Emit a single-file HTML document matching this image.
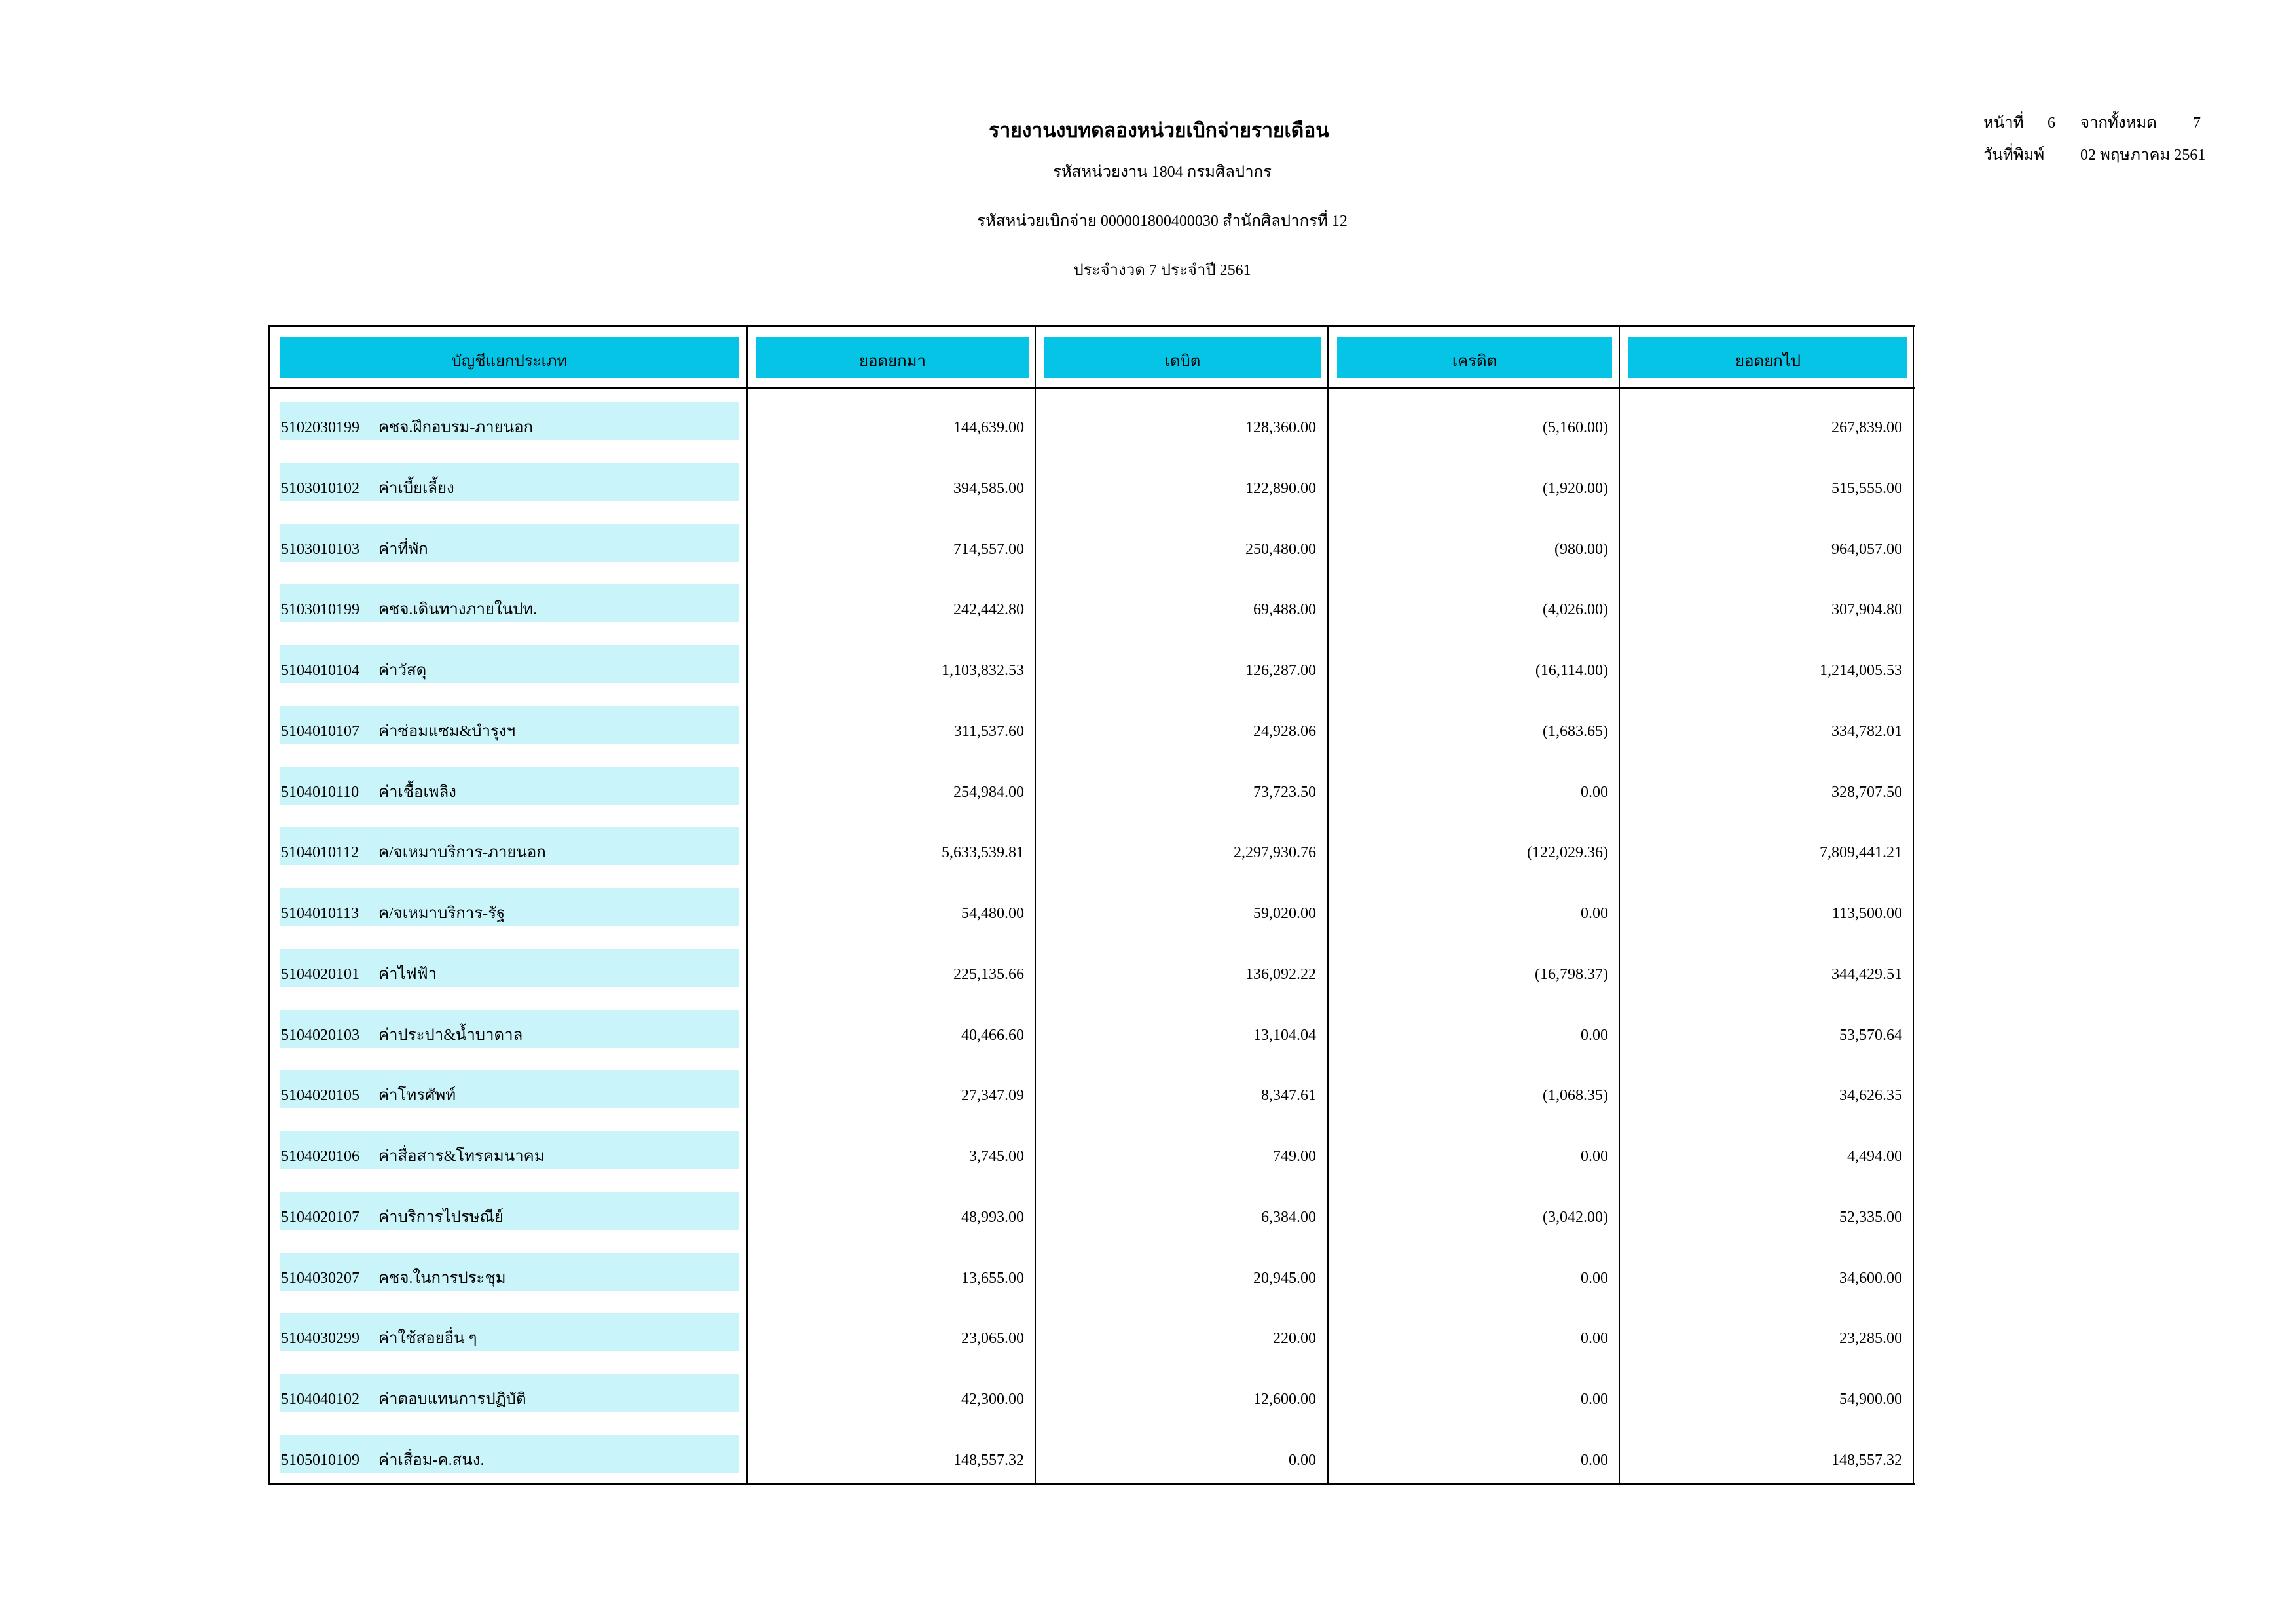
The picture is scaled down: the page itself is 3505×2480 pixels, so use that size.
<!DOCTYPE html>
<html><head><meta charset="utf-8"><style>
body{margin:0;background:#fff;}
#p{position:relative;width:3505px;height:2480px;overflow:hidden;font-family:"Liberation Serif","DejaVu Serif",serif;color:#000;}
.t{position:absolute;white-space:nowrap;font-size:24px;line-height:1;}
.c{position:absolute;transform:translateX(-50%);}
.r{position:absolute;transform:translateX(-100%);}
.b{position:absolute;background:#000;}
.hc{position:absolute;background:#05c4e6;top:515px;height:62px;}
.rc{position:absolute;background:#c9f4fa;left:428px;width:700px;height:58px;}
</style></head><body><div id="p">
<div class="t c" style="left:1770px;top:185px;font-size:30px;font-weight:bold">รายงานงบทดลองหน่วยเบิกจ่ายรายเดือน</div>
<div class="t c" style="left:1775px;top:251px">รหัสหน่วยงาน 1804 กรมศิลปากร</div>
<div class="t c" style="left:1775px;top:326px">รหัสหน่วยเบิกจ่าย 000001800400030 สำนักศิลปากรที่ 12</div>
<div class="t c" style="left:1775px;top:401px">ประจำงวด 7 ประจำปี 2561</div>
<div class="t" style="left:3029px;top:176px">หน้าที่</div>
<div class="t" style="left:3127px;top:176px">6</div>
<div class="t" style="left:3177px;top:176px">จากทั้งหมด</div>
<div class="t" style="left:3349px;top:176px">7</div>
<div class="t" style="left:3029px;top:225px">วันที่พิมพ์</div>
<div class="t" style="left:3177px;top:225px">02 พฤษภาคม 2561</div>

<div class="b" style="left:410px;top:496px;width:2514px;height:3px"></div>
<div class="b" style="left:410px;top:591px;width:2514px;height:3px"></div>
<div class="b" style="left:410px;top:2265px;width:2514px;height:3px"></div>
<div class="b" style="left:410px;top:496px;width:2px;height:1771px"></div>
<div class="b" style="left:1140px;top:496px;width:2px;height:1771px"></div>
<div class="b" style="left:1580px;top:496px;width:2px;height:1771px"></div>
<div class="b" style="left:2027px;top:496px;width:2px;height:1771px"></div>
<div class="b" style="left:2472px;top:496px;width:2px;height:1771px"></div>
<div class="b" style="left:2921px;top:496px;width:2px;height:1771px"></div>

<div class="hc" style="left:428px;width:700px"></div>
<div class="hc" style="left:1155px;width:416px"></div>
<div class="hc" style="left:1595px;width:422px"></div>
<div class="hc" style="left:2042px;width:420px"></div>
<div class="hc" style="left:2487px;width:425px"></div>
<div class="t c" style="left:778px;top:540px">บัญชีแยกประเภท</div>
<div class="t c" style="left:1363px;top:540px">ยอดยกมา</div>
<div class="t c" style="left:1806px;top:540px">เดบิต</div>
<div class="t c" style="left:2252px;top:540px">เครดิต</div>
<div class="t c" style="left:2700px;top:540px">ยอดยกไป</div>

<div id="rows"></div>
</div>
<script>
var d=[
["5102030199","คชจ.ฝึกอบรม-ภายนอก","144,639.00","128,360.00","(5,160.00)","267,839.00"],
["5103010102","ค่าเบี้ยเลี้ยง","394,585.00","122,890.00","(1,920.00)","515,555.00"],
["5103010103","ค่าที่พัก","714,557.00","250,480.00","(980.00)","964,057.00"],
["5103010199","คชจ.เดินทางภายในปท.","242,442.80","69,488.00","(4,026.00)","307,904.80"],
["5104010104","ค่าวัสดุ","1,103,832.53","126,287.00","(16,114.00)","1,214,005.53"],
["5104010107","ค่าซ่อมแซม&บำรุงฯ","311,537.60","24,928.06","(1,683.65)","334,782.01"],
["5104010110","ค่าเชื้อเพลิง","254,984.00","73,723.50","0.00","328,707.50"],
["5104010112","ค/จเหมาบริการ-ภายนอก","5,633,539.81","2,297,930.76","(122,029.36)","7,809,441.21"],
["5104010113","ค/จเหมาบริการ-รัฐ","54,480.00","59,020.00","0.00","113,500.00"],
["5104020101","ค่าไฟฟ้า","225,135.66","136,092.22","(16,798.37)","344,429.51"],
["5104020103","ค่าประปา&น้ำบาดาล","40,466.60","13,104.04","0.00","53,570.64"],
["5104020105","ค่าโทรศัพท์","27,347.09","8,347.61","(1,068.35)","34,626.35"],
["5104020106","ค่าสื่อสาร&โทรคมนาคม","3,745.00","749.00","0.00","4,494.00"],
["5104020107","ค่าบริการไปรษณีย์","48,993.00","6,384.00","(3,042.00)","52,335.00"],
["5104030207","คชจ.ในการประชุม","13,655.00","20,945.00","0.00","34,600.00"],
["5104030299","ค่าใช้สอยอื่น ๆ","23,065.00","220.00","0.00","23,285.00"],
["5104040102","ค่าตอบแทนการปฏิบัติ","42,300.00","12,600.00","0.00","54,900.00"],
["5105010109","ค่าเสื่อม-ค.สนง.","148,557.32","0.00","0.00","148,557.32"]];
var h="",xs=[1564,2010,2456,2905];
d.forEach(function(r,i){var y=614+i*92.76;var ty=Math.round(y+27);
h+='<div class="rc" style="top:'+Math.round(y)+'px"></div>';
h+='<div class="t" style="left:429px;top:'+ty+'px">'+r[0]+'</div>';
h+='<div class="t" style="left:578px;top:'+ty+'px">'+r[1]+'</div>';
for(var k=0;k<4;k++)h+='<div class="t r" style="left:'+xs[k]+'px;top:'+ty+'px">'+r[k+2]+'</div>';});
document.getElementById("rows").innerHTML=h;
</script>
</body></html>
